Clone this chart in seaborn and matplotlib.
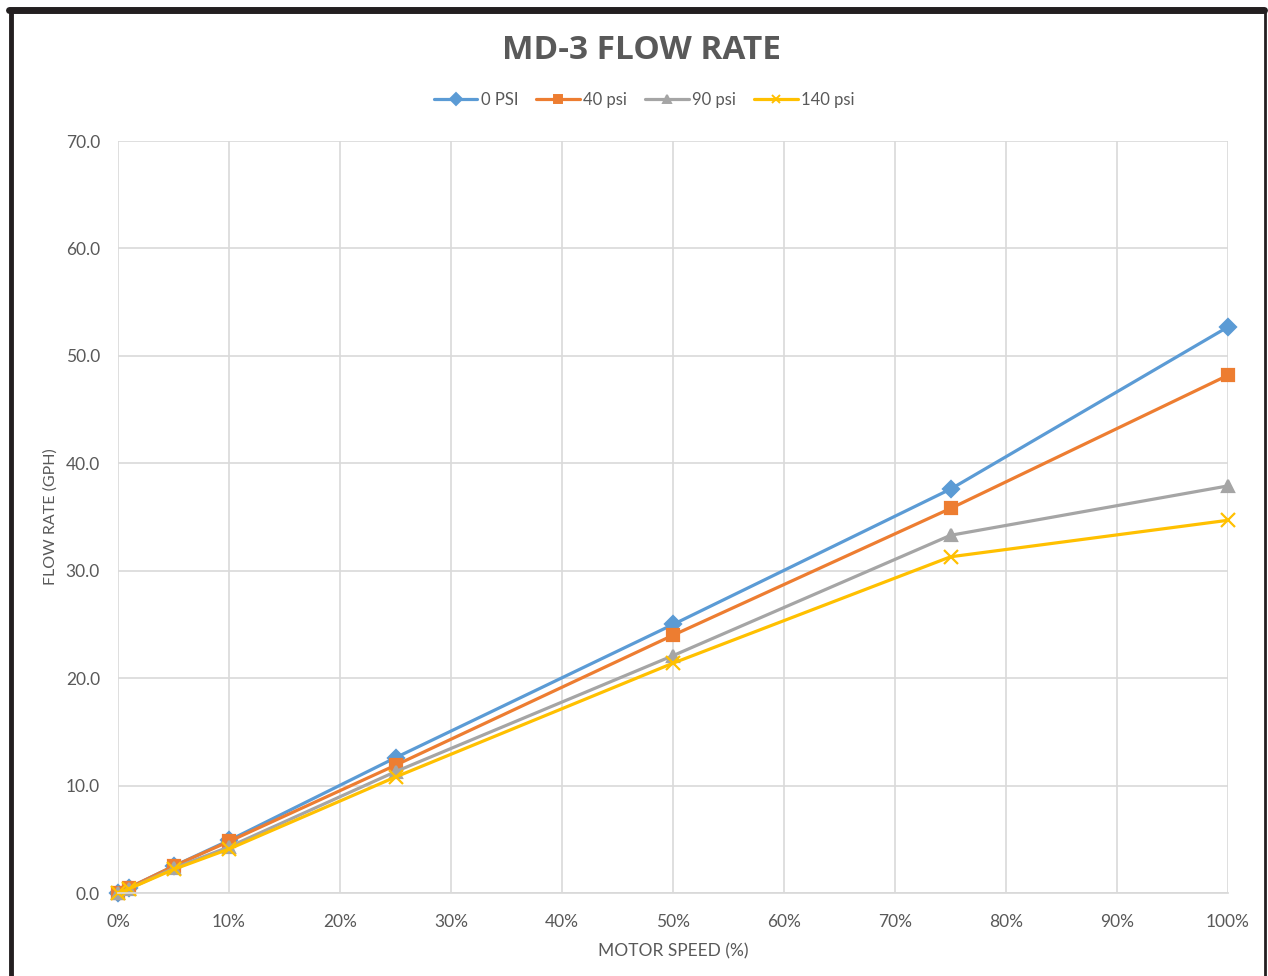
import pandas as pd
import numpy as np
import matplotlib.pyplot as plt
import seaborn as sns
from matplotlib.lines import Line2D

# Datos
motor_speed = [0, 1, 5, 10, 25, 50, 75, 100]
flow_0psi = [0.0, 0.5, 2.5, 4.9, 12.6, 25.0, 37.6, 52.7]
flow_40psi = [0.0, 0.5, 2.5, 4.8, 11.9, 24.0, 35.8, 48.2]
flow_90psi = [0.0, 0.4, 2.3, 4.3, 11.3, 22.1, 33.3, 37.9]
flow_140psi = [0.0, 0.4, 2.2, 4.1, 10.8, 21.4, 31.3, 34.7]
series_names = ["0 PSI", "40 psi", "90 psi", "140 psi"]

colores = ["#5B9BD5", "#ED7D31", "#A5A5A5", "#FFC000"]
marcadores = ["D", "s", "^", "x"]
tamanos = [8, 8.5, 9, 10]

sns.set_theme(style="white")
plt.rcParams["font.family"] = ["Lato", "DejaVu Sans"]

fig = plt.figure(figsize=(12.68, 9.76), dpi=100)
ax = fig.add_axes([0.0931, 0.0850, 0.8754, 0.7705])

# una llamada por serie (seaborn no mezcla marcadores rellenos y de linea)
for nombre, valores, c, m, ms in zip(series_names,
                                     [flow_0psi, flow_40psi, flow_90psi, flow_140psi],
                                     colores, marcadores, tamanos):
    sns.lineplot(x=motor_speed, y=valores, color=c, marker=m, markersize=ms,
                 linewidth=2.3, markeredgecolor=c, markerfacecolor=c,
                 markeredgewidth=1.6, label=nombre, legend=False, ax=ax)

ax.set_xlim(0, 100)
ax.set_ylim(0, 70)
ax.set_xticks(np.arange(0, 101, 10))
ax.set_xticklabels([f"{v}%" for v in range(0, 101, 10)])
ax.set_yticks(np.arange(0, 71, 10))
ax.set_yticklabels([f"{v:.1f}" for v in range(0, 71, 10)])
ax.tick_params(labelsize=12.5, colors="#595959", length=0)
ax.tick_params(axis="x", pad=15)
ax.tick_params(axis="y", pad=13)
ax.grid(True, color="#D9D9D9", linewidth=1.2)
for s in ["top", "right", "left"]:
    ax.spines[s].set_visible(False)
ax.spines["bottom"].set_color("#D9D9D9")
ax.set_axisbelow(True)
for line in ax.get_lines():
    line.set_clip_on(False)

ax.set_xlabel("MOTOR SPEED (%)", fontsize=12.5, color="#595959", labelpad=10)
ax.set_ylabel("FLOW RATE (GPH)", fontsize=11.5, color="#595959", labelpad=6)

fig.text(0.506, 0.948, "MD-3 FLOW RATE", ha="center", va="center",
         fontsize=24, fontweight="bold", color="#595959",
         family=["Open Sans", "DejaVu Sans"])

handles = [Line2D([], [], color=c, marker=m, linewidth=2.3, markersize=6,
                  markeredgecolor=c, markeredgewidth=1.4)
           for c, m in zip(colores, marcadores)]
fig.legend(handles, series_names, loc="center", bbox_to_anchor=(0.508, 0.898),
           ncol=4, frameon=False, fontsize=12, handlelength=2.6,
           columnspacing=1.1, handletextpad=0.2, labelcolor="#595959")

# marco negro del recuadro
borde = dict(color="#231F20", transform=fig.transFigure, clip_on=False)
fig.add_artist(Line2D([0.007, 0.997], [0.9895, 0.9895], linewidth=5, **borde))
fig.add_artist(Line2D([0.0085, 0.0085], [0.0, 0.9895], linewidth=3.5, **borde))
fig.add_artist(Line2D([0.9975, 0.9975], [0.0, 0.9895], linewidth=2, **borde))

plt.savefig("out.png", dpi=100)
plt.close()
